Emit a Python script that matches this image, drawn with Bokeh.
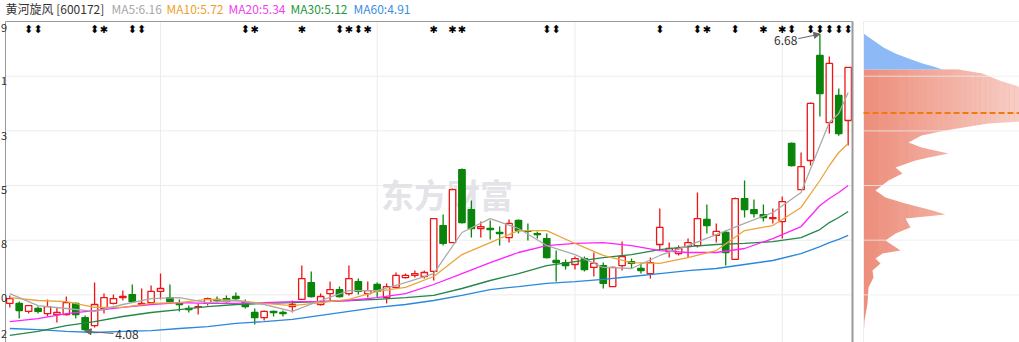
import numpy as np
from bokeh.plotting import figure
from bokeh.layouts import row
from bokeh.models import Range1d, Label, Arrow, NormalHead, ColumnDataSource
from bokeh.core.properties import value
from bokeh.embed import file_html
from bokeh.resources import INLINE

# ---------------- data ----------------
stock_name = "黄河旋风 [600172]"
ma_legend = [("MA5:6.16", "#a8a8a8"), ("MA10:5.72", "#eda12b"),
             ("MA20:5.34", "#f040f0"), ("MA30:5.12", "#24993a"),
             ("MA60:4.91", "#3b8ee0")]

opens = [4.323, 4.323, 4.253, 4.279, 4.235, 4.226, 4.226, 4.323, 4.200, 4.130,
         4.279, 4.323, 4.375, 4.401, 4.314, 4.331, 4.428, 4.375, 4.323, 4.279,
         4.288, 4.323, 4.358, 4.366, 4.384, 4.340, 4.244, 4.200, 4.253, 4.244,
         4.296, 4.358, 4.506, 4.314, 4.410, 4.445, 4.410, 4.515, 4.410, 4.489,
         4.375, 4.463, 4.550, 4.568, 4.559, 4.603, 5.005, 4.856, 5.495, 5.145,
         4.979, 4.979, 4.944, 4.900, 5.049, 4.961, 4.935, 4.891, 4.699, 4.681,
         4.664, 4.716, 4.638, 4.655, 4.471, 4.655, 4.690, 4.629, 4.585, 4.839,
         4.778, 4.760, 4.821, 4.830, 5.058, 4.918, 4.944, 4.708, 5.241, 5.145,
         5.101, 5.066, 5.040, 5.723, 5.320, 5.574, 6.493, 5.906, 6.143, 5.924]
highs = [4.393, 4.340, 4.310, 4.296, 4.358, 4.288, 4.384, 4.331, 4.218, 4.506,
         4.410, 4.401, 4.436, 4.489, 4.454, 4.480, 4.585, 4.489, 4.358, 4.305,
         4.323, 4.375, 4.384, 4.393, 4.419, 4.358, 4.279, 4.261, 4.261, 4.261,
         4.349, 4.655, 4.603, 4.410, 4.515, 4.471, 4.655, 4.541, 4.515, 4.506,
         4.498, 4.594, 4.585, 4.611, 4.611, 5.066, 5.101, 5.330, 5.504, 5.224,
         5.040, 5.049, 4.996, 5.058, 5.058, 5.023, 4.953, 4.935, 4.786, 4.708,
         4.734, 4.734, 4.769, 4.681, 4.646, 4.865, 4.716, 4.673, 4.725, 5.154,
         4.856, 4.830, 4.891, 5.294, 5.189, 5.023, 4.961, 5.250, 5.399, 5.233,
         5.189, 5.154, 5.259, 5.731, 5.644, 6.081, 6.680, 6.484, 6.204, 6.390]
lows = [4.288, 4.191, 4.235, 4.235, 4.209, 4.156, 4.218, 4.191, 4.080, 4.113,
        4.235, 4.314, 4.349, 4.340, 4.305, 4.323, 4.358, 4.331, 4.253, 4.244,
        4.226, 4.305, 4.331, 4.331, 4.349, 4.279, 4.139, 4.174, 4.209, 4.209,
        4.244, 4.358, 4.375, 4.305, 4.349, 4.375, 4.393, 4.401, 4.375, 4.375,
        4.323, 4.463, 4.541, 4.550, 4.541, 4.524, 4.830, 4.856, 5.023, 4.900,
        4.900, 4.883, 4.830, 4.856, 4.935, 4.874, 4.891, 4.716, 4.515, 4.620,
        4.620, 4.603, 4.559, 4.454, 4.471, 4.611, 4.629, 4.585, 4.541, 4.795,
        4.725, 4.743, 4.725, 4.813, 4.935, 4.856, 4.655, 4.708, 5.075, 5.075,
        5.040, 5.023, 4.891, 5.521, 5.320, 5.530, 5.959, 5.810, 5.790, 5.705]
closes = [4.366, 4.261, 4.305, 4.253, 4.296, 4.244, 4.331, 4.226, 4.095, 4.314,
          4.375, 4.366, 4.384, 4.340, 4.323, 4.428, 4.454, 4.340, 4.314, 4.270,
          4.296, 4.366, 4.349, 4.340, 4.366, 4.296, 4.200, 4.253, 4.244, 4.235,
          4.314, 4.541, 4.384, 4.384, 4.445, 4.384, 4.541, 4.428, 4.436, 4.428,
          4.471, 4.568, 4.568, 4.585, 4.594, 5.066, 4.848, 5.320, 5.031, 4.979,
          4.996, 4.970, 4.935, 5.023, 4.961, 4.953, 4.926, 4.725, 4.681, 4.655,
          4.716, 4.620, 4.673, 4.498, 4.638, 4.734, 4.673, 4.611, 4.681, 4.988,
          4.804, 4.804, 4.856, 5.066, 5.005, 4.953, 4.769, 5.241, 5.145, 5.110,
          5.075, 5.075, 5.215, 5.530, 5.521, 6.073, 6.160, 6.423, 5.810, 6.388]

# moving averages at these candle positions
ma_idx = [0, 3, 6, 9, 12, 15, 18, 21, 24, 27, 30, 33, 36, 39, 42, 45, 48, 51,
          54, 57, 60, 63, 66, 69, 72, 75, 78, 81, 84, 86, 87, 88, 89]
ma5 = [4.41, 4.305, 4.279, 4.253, 4.314, 4.366, 4.375, 4.331, 4.349, 4.314,
       4.253, 4.349, 4.436, 4.436, 4.506, 4.585, 4.944, 5.066, 4.979, 4.83,
       4.751, 4.638, 4.629, 4.743, 4.83, 4.926, 5.023, 5.119, 5.294, 5.705,
       5.906, 5.985, 6.169]
ma10 = [4.375, 4.349, 4.34, 4.288, 4.288, 4.323, 4.331, 4.358, 4.349, 4.323,
        4.305, 4.331, 4.358, 4.428, 4.463, 4.559, 4.751, 4.856, 4.961, 4.961,
        4.848, 4.743, 4.681, 4.673, 4.725, 4.786, 4.961, 5.005, 5.163, 5.399,
        5.53, 5.644, 5.723]
ma20 = [4.165, 4.191, 4.235, 4.261, 4.288, 4.314, 4.331, 4.323, 4.323, 4.331,
        4.34, 4.34, 4.349, 4.375, 4.41, 4.489, 4.585, 4.681, 4.769, 4.83,
        4.848, 4.856, 4.83, 4.786, 4.769, 4.769, 4.804, 4.891, 4.996, 5.18,
        5.241, 5.294, 5.355]
ma30 = [4.043, 4.078, 4.13, 4.165, 4.209, 4.244, 4.27, 4.296, 4.314, 4.323,
        4.331, 4.34, 4.349, 4.358, 4.375, 4.393, 4.454, 4.524, 4.585, 4.655,
        4.69, 4.725, 4.751, 4.795, 4.821, 4.839, 4.848, 4.865, 4.9, 4.97,
        5.031, 5.075, 5.128]
ma60 = [4.104, 4.095, 4.078, 4.069, 4.078, 4.086, 4.104, 4.121, 4.148, 4.165,
        4.183, 4.218, 4.253, 4.288, 4.314, 4.349, 4.393, 4.445, 4.471, 4.498,
        4.515, 4.533, 4.559, 4.585, 4.611, 4.629, 4.664, 4.699, 4.76, 4.821,
        4.856, 4.883, 4.918]

# event markers above candles
arrow_marks = [2, 3, 9, 13, 14, 25, 35, 37, 57, 58, 69, 73, 77, 83, 85, 86, 87, 88, 89]
star_marks = [10, 26, 31, 36, 38, 45, 47, 48, 74, 80, 82]
month_starts = [16, 39, 60, 82]

# y axis: gridline values and the part of each tick label left visible at the edge
grid_values = [4.398, 4.877, 5.355, 5.833, 6.312]
edge_label_values = [6.73, 6.27, 5.79, 5.32, 4.84, 4.37, 4.055]
edge_label_texts = ["9", "1", "3", "5", "8", "0", "2"]

# chip distribution (price level, amount)
chip_price_above = [6.685, 6.624, 6.563, 6.51, 6.467, 6.423, 6.396, 6.37]
chip_above = [0, 10, 20, 32, 45, 59, 70, 79]
chip_price_below = [6.37, 6.335, 6.274, 6.213, 6.143, 6.055, 5.968, 5.915, 5.898,
                    5.863, 5.836, 5.793, 5.731, 5.688, 5.635, 5.6, 5.574, 5.513,
                    5.46, 5.399, 5.311, 5.25, 5.198, 5.136, 5.101, 5.066, 4.988,
                    4.935, 4.874, 4.786, 4.76, 4.716, 4.673, 4.611, 4.55, 4.463,
                    4.323, 4.174, 3.999]
chip_below = [95, 119, 136, 158, 172, 180, 172, 160, 125, 100, 82, 58, 45, 58,
              85, 65, 52, 32, 39, 25, 12, 22, 42, 69, 82, 42, 47, 32, 22, 37, 19,
              12, 17, 9, 10, 5, 4, 1, 0]
avg_cost = 5.99

# ---------------- layout constants ----------------
H = 342
XA, XB = -0.987, 90.096          # full canvas of the price panel (candle index units)
X0, X1 = -0.456, 89.46           # frame borders
YA, YB = 3.9815, 6.974           # full canvas height (price units)
Y1 = 6.79                        # frame top border
FONT = "Noto Sans CJK SC"
GRID = "#ececec"

yr = Range1d(YA, YB)
common = dict(height=H, y_range=yr, x_axis_type=None, y_axis_type=None,
              toolbar_location=None, output_backend="svg", min_border=0,
              outline_line_color=None, background_fill_color="white",
              border_fill_color="white")
p = figure(width=858, x_range=Range1d(XA, XB), **common)

# grid lines inside the frame
p.segment(x0=[X0] * len(grid_values), x1=[X1] * len(grid_values), y0=grid_values,
          y1=grid_values, line_color=GRID, line_width=1)
p.segment(x0=month_starts, x1=month_starts, y0=[Y1] * len(month_starts),
          y1=[YA] * len(month_starts), line_color=GRID, line_width=1)

# watermark
p.text(x=[39.4], y=[5.277], text=["东方财富"], text_font=value(FONT),
       text_font_size="33px", text_font_style="bold", text_color="#e3e3e8",
       text_baseline="middle", text_align="left")

# candles
idx = np.arange(len(closes))
o = np.array(opens); c = np.array(closes); h = np.array(highs); l = np.array(lows)
up = c >= o
src_up = ColumnDataSource(dict(x=idx[up], top=np.maximum(o, c)[up], bottom=np.minimum(o, c)[up],
                               h=h[up], l=l[up]))
src_dn = ColumnDataSource(dict(x=idx[~up], top=np.maximum(o, c)[~up], bottom=np.minimum(o, c)[~up],
                               h=h[~up], l=l[~up]))
RED, GREEN = "#f01414", "#0a840a"
p.segment(x0="x", y0="h", x1="x", y1="l", source=src_up, line_color=RED, line_width=1.3)
p.segment(x0="x", y0="h", x1="x", y1="l", source=src_dn, line_color=GREEN, line_width=1.3)
p.vbar(x="x", width=0.68, top="top", bottom="bottom", source=src_up,
       fill_color="white", line_color=RED, line_width=1.3)
p.vbar(x="x", width=0.68, top="top", bottom="bottom", source=src_dn,
       fill_color=GREEN, line_color=GREEN, line_width=1.3)

# moving averages
for vals, col in zip([ma60, ma30, ma20, ma10, ma5],
                     ["#2a88dd", "#25874a", "#ff22ff", "#eba43a", "#aaaaaa"]):
    p.line(ma_idx, vals, line_color=col, line_width=1.3)

# event markers
p.text(x=arrow_marks, y=[Y1] * len(arrow_marks), text=["⬍"] * len(arrow_marks),
       text_font=value("DejaVu Sans"), text_font_size="11px", text_color="black",
       text_align="center", text_baseline="top", y_offset=1)
p.text(x=star_marks, y=[Y1] * len(star_marks), text=["✱"] * len(star_marks),
       text_font=value("DejaVu Sans"), text_font_size="10px", text_color="black",
       text_align="center", text_baseline="top", y_offset=2)

# frame borders (left, top, right)
p.segment(x0=[X0, X0, X1], y0=[YA, Y1, YA], x1=[X0, X1, X1], y1=[Y1, Y1, Y1],
          line_color="#9a9a9a", line_width=[1, 1, 2])

# y tick labels: only their last digit shows at the left edge
p.text(x=[XA] * len(edge_label_values), y=edge_label_values, text=edge_label_texts,
       x_offset=0.5, text_align="left", text_baseline="middle",
       text_font=value(FONT), text_font_size="11px", text_color="#333333")

# header legend
header = [(stock_name, "#333333", 0)] + [(t, col, off) for (t, col), off in
                                         zip(ma_legend, [106, 161, 223, 285, 348])]
for t, col, off in header:
    p.add_layout(Label(x=X0, y=Y1, text=t, x_offset=off, y_offset=13,
                       text_align="left", text_baseline="middle", text_font=FONT,
                       text_font_size="12px", text_color=col))

# high / low annotations
hi_i = int(np.argmax(h)); lo_i = int(np.argmin(l))
p.add_layout(Arrow(end=NormalHead(size=6, fill_color="#666666", line_color="#666666"),
                   x_start=hi_i - 2.3, y_start=h[hi_i] - 0.04, x_end=hi_i, y_end=h[hi_i],
                   line_color="#666666", line_width=1))
p.add_layout(Label(x=hi_i - 2.4, y=h[hi_i] - 0.056, text=f"{h[hi_i]:.2f}",
                   text_align="right", text_baseline="middle", text_font=FONT,
                   text_font_size="12px", text_color="#333333"))
p.add_layout(Arrow(end=NormalHead(size=6, fill_color="#666666", line_color="#666666"),
                   x_start=lo_i + 3.0, y_start=l[lo_i] - 0.02, x_end=lo_i, y_end=l[lo_i],
                   line_color="#666666", line_width=1))
p.add_layout(Label(x=lo_i + 3.2, y=l[lo_i] - 0.025, text=f"{l[lo_i]:.2f}",
                   text_align="left", text_baseline="middle", text_font=FONT,
                   text_font_size="12px", text_color="#333333"))

# ---------------- chip distribution panel ----------------
q = figure(width=161, x_range=Range1d(-5, 156), **common)

# salmon profile in its darkest shade, lightened toward the right by white veils
q.harea(x1=[0] * len(chip_below), x2=chip_below, y=chip_price_below,
        fill_color="#ed8f7c", fill_alpha=1.0)
n_bands = 32
edges = np.linspace(0, 156, n_bands + 1)
alphas = np.linspace(0, 0.55, n_bands)
q.quad(left=edges[:-1], right=edges[1:], bottom=[YA] * n_bands,
       top=[chip_price_below[0]] * n_bands, fill_color="white",
       fill_alpha=alphas, line_color=None)

q.harea(x1=[0] * len(chip_above), x2=chip_above, y=chip_price_above,
        fill_color="#8eb9f7", fill_alpha=1.0)

gv = grid_values + [Y1]
q.segment(x0=[0] * len(gv), x1=[156] * len(gv), y0=gv, y1=gv,
          line_color=GRID, line_width=1, line_alpha=0.8)
q.segment(x0=[0], x1=[0], y0=[YA], y1=[Y1], line_color="#eeeeee", line_width=1)
q.segment(x0=[0], x1=[156], y0=[avg_cost], y1=[avg_cost], line_color="#f07a10",
          line_dash="6 3", line_width=2)

layout = row(p, q, spacing=0)
open("out.html", "w").write(file_html(layout, INLINE))
